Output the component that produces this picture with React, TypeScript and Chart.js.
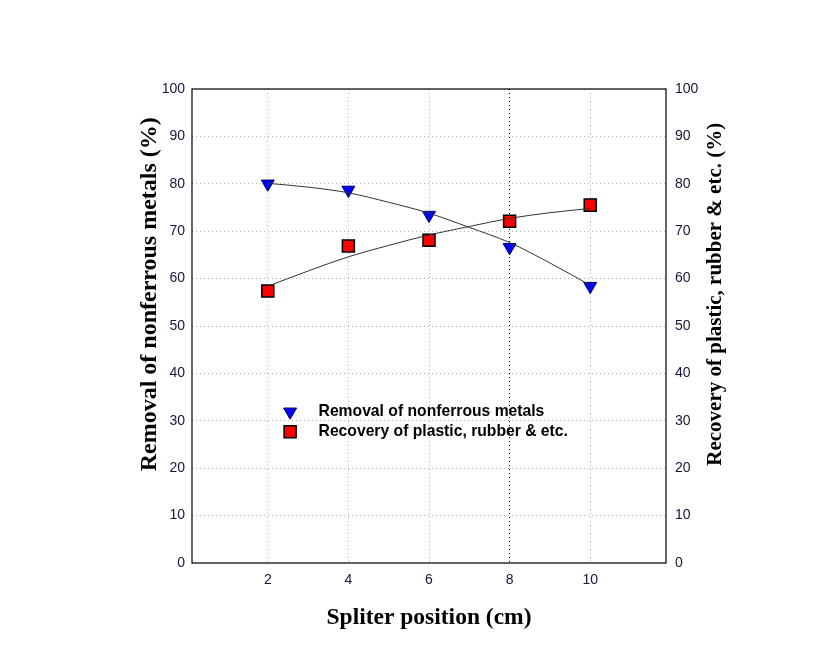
import { useEffect, useRef } from 'react';
import { Chart, registerables } from 'chart.js';

Chart.register(...registerables);

const positions = [2, 4, 6, 8, 10];
const removal = [80.0, 78.7, 73.4, 66.6, 58.4];
const recovery = [57.4, 66.9, 68.1, 72.1, 75.5];
const fitX = [2, 3, 4, 5, 6, 7, 8, 9, 10];
const removalFit = [80.1, 79.3, 78.1, 76.1, 73.8, 70.8, 67.6, 63.3, 58.6];
const recoveryFit = [58.4, 61.6, 64.6, 67.0, 69.2, 71.0, 72.7, 73.9, 74.8];
const xTicks = [2, 4, 6, 8, 10];
const yTicks = [0, 10, 20, 30, 40, 50, 60, 70, 80, 90, 100];
const legendLabels = ['Removal of nonferrous metals', 'Recovery of plastic, rubber & etc.'];
const xTitle = 'Spliter position (cm)';
const leftTitle = 'Removal of nonferrous metals (%)';
const rightTitle = 'Recovery of plastic, rubber & etc. (%)';

const serif = "'Liberation Serif', 'Times New Roman', serif";
const tickFont = { family: "'Liberation Sans', Arial, sans-serif", size: 14 };
const titleFont = { family: serif, size: 23.5, weight: 'bold' as const };
const tickColor = '#16163a';

const framePlugin = {
  id: 'frameAndLegend',
  afterDraw(chart: any) {
    const { ctx, chartArea } = chart;
    const { left, top, right, bottom } = chartArea;
    const w = right - left;
    const h = bottom - top;
    ctx.save();
    ctx.strokeStyle = '#000';
    ctx.lineWidth = 1.2;
    ctx.strokeRect(left, top, w, h);

    // vertical axis titles (both read bottom-to-top)
    const ty = top + 0.433 * h;
    ctx.fillStyle = '#000';
    ctx.textAlign = 'center';
    ctx.textBaseline = 'middle';
    [
      [left - 42, leftTitle, 24],
      [right + 50, rightTitle, 21],
    ].forEach(([x, t, size]: any) => {
      ctx.save();
      ctx.font = `bold ${size}px ${serif}`;
      ctx.translate(x, ty);
      ctx.rotate(-Math.PI / 2);
      ctx.fillText(t, 0, 0);
      ctx.restore();
    });

    // legend
    const items = [chart.data.datasets[2], chart.data.datasets[3]];
    const mx = left + 0.207 * w;
    const tx = left + 0.267 * w;
    const ys = [top + 0.681 * h, top + 0.723 * h];
    items.forEach((ds: any, i: number) => {
      const y = ys[i];
      ctx.fillStyle = ds.pointBackgroundColor;
      ctx.strokeStyle = ds.pointBorderColor;
      ctx.lineWidth = ds.pointBorderWidth;
      ctx.beginPath();
      if (ds.pointStyle === 'triangle') {
        const r = ds.pointRadius;
        ctx.moveTo(mx - r * Math.sin(Math.PI / 3), y - r * 0.5);
        ctx.lineTo(mx + r * Math.sin(Math.PI / 3), y - r * 0.5);
        ctx.lineTo(mx, y + r);
        ctx.closePath();
      } else {
        const s = ds.pointRadius * Math.SQRT1_2;
        ctx.rect(mx - s, y - s, 2 * s, 2 * s);
      }
      ctx.fill();
      ctx.stroke();
      ctx.fillStyle = '#000';
      ctx.font = "bold 15.7px 'Liberation Sans', Arial, sans-serif";
      ctx.textBaseline = 'middle';
      ctx.textAlign = 'left';
      ctx.fillText(legendLabels[i], tx, y);
    });
    ctx.restore();
  },
};

export default function App() {
  const ref = useRef<HTMLCanvasElement>(null);
  useEffect(() => {
    document.body.style.margin = '0';
    const canvas = ref.current;
    if (!canvas) return;
    const chart = new Chart(canvas, {
      type: 'scatter',
      data: {
        datasets: [
          {
            label: 'removal fit',
            type: 'line',
            data: fitX.map((x, i) => ({ x, y: removalFit[i] })),
            borderColor: '#333',
            borderWidth: 1,
            pointRadius: 0,
            tension: 0.4,
            cubicInterpolationMode: 'monotone',
            yAxisID: 'y',
          } as any,
          {
            label: 'recovery fit',
            type: 'line',
            data: fitX.map((x, i) => ({ x, y: recoveryFit[i] })),
            borderColor: '#333',
            borderWidth: 1,
            pointRadius: 0,
            tension: 0.4,
            cubicInterpolationMode: 'monotone',
            yAxisID: 'y1',
          } as any,
          {
            label: legendLabels[0],
            data: positions.map((x, i) => ({ x, y: removal[i] })),
            pointStyle: 'triangle',
            rotation: 180,
            pointRadius: 7.5,
            pointBackgroundColor: '#0000ff',
            pointBorderColor: '#000060',
            pointBorderWidth: 1,
            backgroundColor: '#0000ff',
            borderColor: '#000060',
            yAxisID: 'y',
          } as any,
          {
            label: legendLabels[1],
            data: positions.map((x, i) => ({ x, y: recovery[i] })),
            pointStyle: 'rect',
            pointRadius: 8.5,
            pointBackgroundColor: '#ff0000',
            pointBorderColor: '#000',
            pointBorderWidth: 1.5,
            backgroundColor: '#ff0000',
            borderColor: '#000',
            yAxisID: 'y1',
          } as any,
        ],
      },
      options: {
        animation: false,
        responsive: false,
        layout: { padding: { left: 130, right: 95, top: 89, bottom: 24 } },
        plugins: { legend: { display: false }, tooltip: { enabled: false } },
        scales: {
          x: {
            type: 'linear',
            min: 0.12,
            max: 11.88,
            afterBuildTicks: (s: any) => {
              s.ticks = xTicks.map((v) => ({ value: v }));
            },
            afterFit: (s: any) => {
              s.height = 77;
            },
            ticks: { font: tickFont, color: tickColor, padding: 9 },
            grid: {
              color: (c: any) => (c.tick && c.tick.value === 8 ? '#000' : '#b0b0b0'),
              lineWidth: 1,
              drawTicks: false,
            },
            border: { display: false, dash: [1, 3] },
            title: {
              display: true,
              text: xTitle,
              font: titleFont,
              color: '#000',
              padding: { top: 0, bottom: 8 },
            },
          },
          y: {
            type: 'linear',
            position: 'left',
            min: 0,
            max: 100,
            afterBuildTicks: (s: any) => {
              s.ticks = yTicks.map((v) => ({ value: v }));
            },
            afterFit: (s: any) => {
              s.width = 62;
            },
            ticks: { font: tickFont, color: tickColor, padding: 7 },
            grid: { color: '#b0b0b0', lineWidth: 1, drawTicks: false },
            border: { display: false, dash: [1, 3] },
            title: { display: false },
          },
          y1: {
            type: 'linear',
            position: 'right',
            min: 0,
            max: 100,
            afterBuildTicks: (s: any) => {
              s.ticks = yTicks.map((v) => ({ value: v }));
            },
            afterFit: (s: any) => {
              s.width = 64;
            },
            ticks: { font: tickFont, color: tickColor, padding: 9 },
            grid: { display: false, drawTicks: false },
            border: { display: false },
            title: { display: false },
          },
        },
      },
      plugins: [framePlugin],
    });
    return () => chart.destroy();
  }, []);
  return (
    <div style={{ width: 825, height: 664 }}>
      <canvas ref={ref} width={825} height={664} style={{ display: 'block' }} />
    </div>
  );
}
